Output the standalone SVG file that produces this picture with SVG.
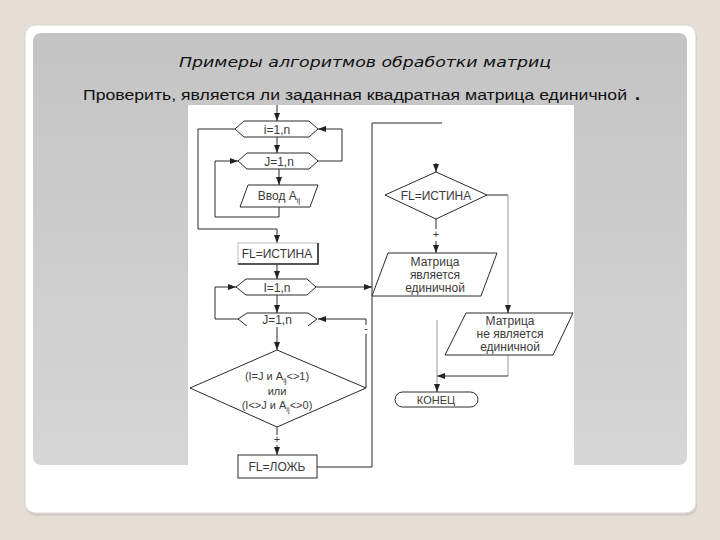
<svg xmlns="http://www.w3.org/2000/svg" width="720" height="540" viewBox="0 0 720 540">
<defs>
<linearGradient id="pg" x1="0" y1="0" x2="0" y2="1">
<stop offset="0" stop-color="#c4c4c4"/>
<stop offset="1" stop-color="#d6d6d6"/>
</linearGradient>
<marker id="ah" markerUnits="userSpaceOnUse" markerWidth="8" markerHeight="8" viewBox="0 0 8 8" refX="8" refY="4" orient="auto">
<path d="M0,1 L8,4 L0,7 Z" fill="#222"/>
</marker>
<style>
.l{fill:none;stroke:#2a2a2a;stroke-width:1}
.f{fill:none;stroke:#9a9a9a;stroke-width:1}
.s{fill:#fff;stroke:#2a2a2a;stroke-width:1}
.t{font-family:"Liberation Sans",Arial,sans-serif;font-size:11px;fill:#3a3a3a;text-anchor:middle}
.b{font-size:12px}
.sub{font-size:7.5px}
</style>
</defs>
<rect x="0" y="0" width="720" height="540" fill="#e4ded4"/>
<rect x="26" y="28" width="671" height="488" rx="10" fill="#d2cdc4"/>
<rect x="25" y="25" width="671" height="488" rx="10" fill="#fff" stroke="#d9d5cd"/>
<rect x="33" y="33" width="654" height="432" rx="8" fill="url(#pg)"/>
<rect x="188" y="105" width="386" height="361" fill="#fff"/>
<text x="179" y="67" font-family="'DejaVu Sans',Verdana,sans-serif" font-style="italic" font-size="14" fill="#111" textLength="372" lengthAdjust="spacingAndGlyphs">Примеры алгоритмов обработки матриц</text>
<text x="83" y="100" font-family="'Liberation Sans',Arial,sans-serif" font-size="14" fill="#111" textLength="544" lengthAdjust="spacingAndGlyphs">Проверить, является ли заданная квадратная матрица единичной</text>
<text x="635" y="100" font-family="'Liberation Sans',Arial,sans-serif" font-size="18" font-weight="bold" fill="#111">.</text>
<g id="connectors">
<path class="l" d="M277,105 V121" marker-end="url(#ah)"/>
<path class="l" d="M277,137 V153" marker-end="url(#ah)"/>
<path class="l" d="M318,161 H342 V129 H318" marker-end="url(#ah)"/>
<path class="l" d="M279,169 V185" marker-end="url(#ah)"/>
<path class="l" d="M279,207 V217 H215 V161 H238" marker-end="url(#ah)"/>
<path class="l" d="M235,129 H198 V229 H277 V243" marker-end="url(#ah)"/>
<path class="l" d="M277,264 V279" marker-end="url(#ah)"/>
<path class="l" d="M277,295 V313" marker-end="url(#ah)"/>
<path class="l" d="M238,319 H215 V287 H236" marker-end="url(#ah)"/>
<path class="l" d="M277,327 V350" marker-end="url(#ah)"/>
<path class="l" d="M366,388 V334"/>
<path class="l" d="M366,325 V319 H318" marker-end="url(#ah)"/>
<text class="t" x="366" y="332">-</text>
<path class="l" d="M277,427 V435"/>
<text class="t" x="277" y="443">+</text>
<path class="l" d="M277,445 V455" marker-end="url(#ah)"/>
<path class="l" d="M317,467 H372 V123 H442"/>
<path class="l" d="M316,287 H372" marker-end="url(#ah)"/>
<path class="l" d="M436,163 V172" marker-end="url(#ah)"/>
<path class="l" d="M487,195 H508"/>
<path class="f" d="M508,195 V306"/>
<path class="l" d="M508,305 V313" marker-end="url(#ah)"/>
<path class="l" d="M436,219 V229"/>
<text class="t" x="436" y="238">+</text>
<path class="l" d="M436,241 V253" marker-end="url(#ah)"/>
<path class="f" d="M508,355 V376"/>
<path class="l" d="M508,376 H437" marker-end="url(#ah)"/>
<path class="f" d="M437,320 V386"/>
<path class="l" d="M437,384 V392" marker-end="url(#ah)"/>
</g>
<g id="loop-i">
<polygon class="s" points="235,129 244,121 309,121 318,129 309,137 244,137"/>
<text class="t b" x="277" y="133.5">i=1,n</text>
</g>
<g id="loop-j">
<polygon class="s" points="238,161 247,153 309,153 318,161 309,169 247,169"/>
<text class="t b" x="279" y="165.5">J=1,n</text>
</g>
<g id="input-a">
<polygon class="s" points="248,185 318,185 310,207 240,207"/>
<text class="t b" x="279" y="200">Ввод A<tspan class="sub" dy="3">ij</tspan></text>
</g>
<g id="fl-true">
<rect x="238" y="243" width="80" height="21" fill="#fff" stroke="#bbb"/>
<path d="M318,243 V264 H238" fill="none" stroke="#2a2a2a" stroke-width="1.6"/>
<text class="t b" x="277" y="258">FL=ИСТИНА</text>
</g>
<g id="loop-i2">
<polygon class="s" points="236,287 246,279 307,279 316,287 307,295 246,295"/>
<text class="t b" x="277" y="291.5">I=1,n</text>
</g>
<g id="loop-j2">
<path fill="#fff" d="M238,319 L247,313 H308 L317,319 L308,326 H247 Z"/>
<path class="l" d="M247,326 L238,319 L247,313 H308 L317,319 L308,326"/>
<text class="t b" x="277" y="323.5">J=1,n</text>
</g>
<g id="cond">
<polygon class="s" points="277,350 366,388 277,427 190,388"/>
<text class="t" x="277" y="380">(I=J и A<tspan class="sub" dy="3">ij</tspan><tspan dy="-3">&lt;&gt;1)</tspan></text>
<text class="t" x="277" y="395">или</text>
<text class="t" x="277" y="409">(I&lt;&gt;J и A<tspan class="sub" dy="3">ij</tspan><tspan dy="-3">&lt;&gt;0)</tspan></text>
</g>
<g id="fl-false">
<rect class="s" x="238" y="455" width="79" height="23"/>
<text class="t b" x="277" y="471">FL=ЛОЖЬ</text>
</g>
<g id="check-fl">
<polygon class="s" points="436,172 487,195 436,219 385,195"/>
<text class="t b" x="436" y="199.5">FL=ИСТИНА</text>
</g>
<g id="out-yes">
<polygon class="s" points="388,253 497,253 481,296 372,296"/>
<text class="t b" x="435" y="266">Матрица</text>
<text class="t b" x="435" y="279">является</text>
<text class="t b" x="435" y="292">единичной</text>
</g>
<g id="out-no">
<polygon class="s" points="466,313 573,313 553,355 445,355"/>
<text class="t b" x="510" y="325">Матрица</text>
<text class="t b" x="510" y="338">не является</text>
<text class="t b" x="510" y="351">единичной</text>
</g>
<g id="end">
<rect class="s" x="395" y="392" width="83" height="15" rx="7.5"/>
<text class="t" x="436" y="404" font-size="12.5">КОНЕЦ</text>
</g>
</svg>
